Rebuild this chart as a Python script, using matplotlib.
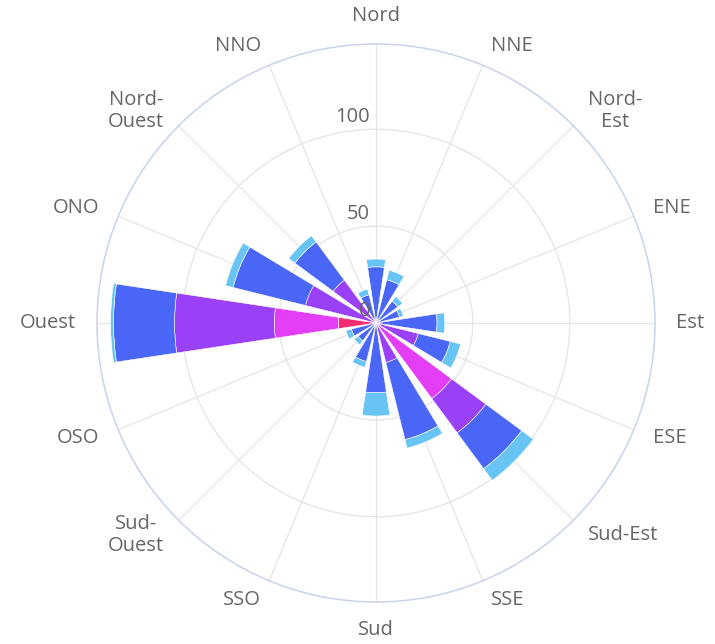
import numpy as np
import matplotlib
matplotlib.use("Agg")
import matplotlib.pyplot as plt
from matplotlib.transforms import offset_copy

plt.rcParams['font.family'] = ['Open Sans', 'DejaVu Sans']

directions = ["Nord", "NNE", "Nord-\nEst", "ENE", "Est", "ESE", "Sud-Est", "SSE",
              "Sud", "SSO", "Sud-\nOuest", "OSO", "Ouest", "ONO", "Nord-\nOuest", "NNO"]

s_red     = [0, 0, 0, 0, 0, 0, 2, 0, 0, 0, 0, 0, 19.5, 0, 0, 0]
s_magenta = [0, 0, 0, 0, 0, 2, 46.5, 0, 0, 0, 0, 0, 33, 0, 0, 0]
s_purple  = [2, 2, 2, 2, 2, 20.5, 22, 21, 2, 2, 1, 1, 51.5, 37.5, 27.5, 2]
s_blue    = [27, 21, 12, 10.5, 29.5, 17, 23, 41, 34, 18.5, 10.5, 12, 31.5, 38.5, 24.5, 13]
s_light   = [4, 5, 3, 2, 4, 5.5, 7.5, 4.5, 12, 3, 2.5, 3, 1.5, 4, 4, 3]

series = [s_red, s_magenta, s_purple, s_blue, s_light]
colors = ["#f22d74", "#e33df5", "#9a40f7", "#4a66f7", "#68c4f5"]

rticks = [50, 100]
rmax = 144

W, H = 715, 644
fig = plt.figure(figsize=(W / 100, H / 100), dpi=100)
cx, cy, R = 376, 323, 279
ax = fig.add_axes([(cx - R) / W, (H - cy - R) / H, 2 * R / W, 2 * R / H], projection='polar')
ax.set_theta_zero_location('N')
ax.set_theta_direction(-1)
ax.set_ylim(0, rmax)
ax.set_axisbelow(True)

n = len(directions)
theta = np.arange(n) * 2 * np.pi / n
width = 2 * np.pi / n * 0.76

bottom = np.zeros(n)
for vals, col in zip(series, colors):
    v = np.array(vals, dtype=float)
    ax.bar(theta, v, width=width, bottom=bottom, color=col, edgecolor='white',
           linewidth=0.4, zorder=3)
    bottom += v

ax.set_xticks(theta)
ax.set_xticklabels([])
ax.set_yticks(rticks)
ax.set_yticklabels([])
ax.grid(True, color='#e6e6e6', linewidth=1.0)
ax.spines['polar'].set_color('#ccd6eb')
ax.spines['polar'].set_linewidth(1.2)
ax.tick_params(length=0)

txtcol = '#666666'
fs = 14.5
# category labels
for t, lab in zip(theta, directions):
    s, c = np.sin(t), np.cos(t)
    if abs(s) < 0.1:
        off = 18
        ha = 'center'
        va = 'bottom' if c > 0 else 'top'
    else:
        off = 21
        ha = 'left' if s > 0 else 'right'
        va = 'center'
    tr = offset_copy(ax.transData, fig=fig, x=off * s, y=off * c, units='dots')
    ax.text(t, rmax, lab, transform=tr, ha=ha, va=va, multialignment='center',
            fontsize=fs, color=txtcol, clip_on=False, linespacing=1.1)

# radial labels
trr = offset_copy(ax.transData, fig=fig, x=-6, y=2, units='dots')
for r in [0] + rticks:
    ax.text(0, r, str(r), transform=trr, ha='right', va='bottom',
            fontsize=fs, color=txtcol, zorder=5)

fig.savefig("out.png", dpi=100)
